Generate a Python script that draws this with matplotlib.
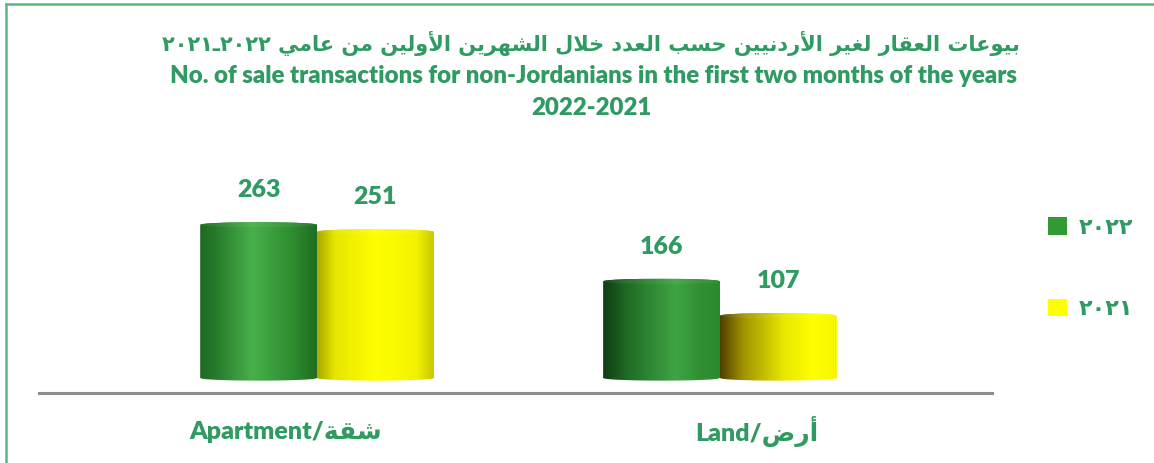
import numpy as np
import matplotlib
matplotlib.use("Agg")
import matplotlib.pyplot as plt
from matplotlib.patches import PathPatch, Patch
from matplotlib.path import Path
from matplotlib.lines import Line2D
from matplotlib.colors import to_rgb

# ---- data ----
categories = ["Apartment/شقة", "Land/أرض"]
series_names = ["٢٠٢٢", "٢٠٢١"]
values_2022 = [263, 166]
values_2021 = [251, 107]
title_ar = "بيوعات العقار لغير الأردنيين حسب العدد خلال الشهرين الأولين من عامي ٢٠٢٢ـ٢٠٢١"
title_en_1 = "No. of sale transactions for non-Jordanians in the first two months of the years"
title_en_2 = "2022-2021"

TXT = "#2f9a62"

# ---- minimal arabic shaping (matplotlib does no text shaping) ----
FORMS = {
    "ا": ("\uFE8D", "\uFE8E", None, None),
    "أ": ("\uFE83", "\uFE84", None, None),
    "ب": ("\uFE8F", "\uFE90", "\uFE91", "\uFE92"),
    "ة": ("\uFE93", "\uFE94", None, None),
    "ت": ("\uFE95", "\uFE96", "\uFE97", "\uFE98"),
    "ح": ("\uFEA1", "\uFEA2", "\uFEA3", "\uFEA4"),
    "خ": ("\uFEA5", "\uFEA6", "\uFEA7", "\uFEA8"),
    "د": ("\uFEA9", "\uFEAA", None, None),
    "ر": ("\uFEAD", "\uFEAE", None, None),
    "س": ("\uFEB1", "\uFEB2", "\uFEB3", "\uFEB4"),
    "ش": ("\uFEB5", "\uFEB6", "\uFEB7", "\uFEB8"),
    "ض": ("\uFEBD", "\uFEBE", "\uFEBF", "\uFEC0"),
    "ع": ("\uFEC9", "\uFECA", "\uFECB", "\uFECC"),
    "غ": ("\uFECD", "\uFECE", "\uFECF", "\uFED0"),
    "ق": ("\uFED5", "\uFED6", "\uFED7", "\uFED8"),
    "ل": ("\uFEDD", "\uFEDE", "\uFEDF", "\uFEE0"),
    "م": ("\uFEE1", "\uFEE2", "\uFEE3", "\uFEE4"),
    "ن": ("\uFEE5", "\uFEE6", "\uFEE7", "\uFEE8"),
    "ه": ("\uFEE9", "\uFEEA", "\uFEEB", "\uFEEC"),
    "و": ("\uFEED", "\uFEEE", None, None),
    "ي": ("\uFEF1", "\uFEF2", "\uFEF3", "\uFEF4"),
}
LAM_ALEF = {"ا": ("\uFEFB", "\uFEFC"), "أ": ("\uFEF7", "\uFEF8")}


def joins_forward(ch):
    return ch is not None and not isinstance(ch, tuple) and ch in FORMS and FORMS[ch][2] is not None


def shape_word(word):
    letters = []
    i = 0
    while i < len(word):
        if word[i] == "ل" and i + 1 < len(word) and word[i + 1] in LAM_ALEF:
            letters.append(("LA", word[i + 1]))
            i += 2
        else:
            letters.append(word[i])
            i += 1
    out = []
    for k, ch in enumerate(letters):
        prev = letters[k - 1] if k > 0 else None
        nxt = letters[k + 1] if k + 1 < len(letters) else None
        jp = joins_forward(prev)
        if isinstance(ch, tuple):
            iso, fin = LAM_ALEF[ch[1]]
            out.append(fin if jp else iso)
            continue
        if ch not in FORMS:
            out.append(ch)
            continue
        f = FORMS[ch]
        jn = f[2] is not None and nxt is not None and (isinstance(nxt, tuple) or nxt in FORMS)
        if jp and jn:
            out.append(f[3])
        elif jp:
            out.append(f[1])
        elif jn:
            out.append(f[2])
        else:
            out.append(f[0])
    return "".join(reversed(out))


def visual(text):
    words = text.split(" ")
    out = []
    for w in reversed(words):
        if any(c in "٠١٢٣٤٥٦٧٨٩" for c in w):
            out.append("ـ".join(reversed(w.split("ـ"))))
        else:
            out.append(shape_word(w))
    return " ".join(out)


def visual_label(s):
    en, ar = s.split("/")
    return en + "/" + visual(ar)


# ---- figure ----
W, H = 1154, 463
fig = plt.figure(figsize=(W / 100, H / 100), dpi=100)
fig.patch.set_facecolor("white")

ax = fig.add_axes([39 / W, 1 - 393 / H, (992 - 39) / W, (393 - 145) / H])
for s in ["top", "left", "right"]:
    ax.spines[s].set_visible(False)
ax.spines["bottom"].set_color("#8c8c8c")
ax.spines["bottom"].set_linewidth(2.2)
ax.set_xticks([])
ax.set_yticks([])

x = np.arange(len(categories))
w = 0.29
ry = 4.5

shading = {
    (0, 0): [(0, "#1d6a22"), (0.12, "#25782a"), (0.45, "#48b04a"), (0.78, "#2e8e30"), (1, "#1f6e22")],
    (1, 0): [(0, "#0f3d14"), (0.2, "#1f6a25"), (0.62, "#3fa544"), (0.85, "#2f8f32"), (1, "#2a8a2e")],
    (0, 1): [(0, "#a8a800"), (0.15, "#e5e500"), (0.5, "#ffff00"), (0.85, "#f2f200"), (1, "#c8c800")],
    (1, 1): [(0, "#4f3f00"), (0.2, "#a09400"), (0.55, "#e8e800"), (0.8, "#ffff00"), (1, "#f5f500")],
}


def gradient(stops, light=0.0):
    pos = [p for p, _ in stops]
    cols = np.array([to_rgb(c) for _, c in stops])
    t = np.linspace(0, 1, 256)
    rgb = np.stack([np.interp(t, pos, cols[:, i]) for i in range(3)], axis=-1)
    rgb = rgb + (1 - rgb) * light
    return rgb[np.newaxis, :, :]


def cylinder(rect, stops, z):
    x0 = rect.get_x()
    x1 = x0 + rect.get_width()
    v = rect.get_height()
    xc = (x0 + x1) / 2
    a = (x1 - x0) / 2
    xs = np.linspace(x0, x1, 80)
    arc = ry * np.sqrt(np.clip(1 - ((xs - xc) / a) ** 2, 0, 1))
    verts = [(x0, 0), (x0, v)] + list(zip(xs, v + arc)) + [(x1, 0)] + list(zip(xs[::-1], -arc[::-1])) + [(x0, 0)]
    body = PathPatch(Path(verts, closed=True), transform=ax.transData, facecolor="none", edgecolor="none")
    ax.add_patch(body)
    im = ax.imshow(gradient(stops), extent=[x0, x1, -ry, v + ry], aspect="auto",
                   interpolation="bilinear", zorder=z)
    im.set_clip_path(body)
    top_verts = list(zip(xs, v + arc)) + list(zip(xs[::-1], v - arc[::-1]))
    top = PathPatch(Path(top_verts, closed=True), transform=ax.transData, facecolor="none", edgecolor="none")
    ax.add_patch(top)
    im2 = ax.imshow(gradient(stops, light=0.06), extent=[x0, x1, v - ry, v + ry], aspect="auto",
                    interpolation="bilinear", zorder=z + 0.1)
    im2.set_clip_path(top)


bars_2021 = ax.bar(x + w / 2, values_2021, w, alpha=0)
bars_2022 = ax.bar(x - w / 2, values_2022, w, alpha=0)
for g, r in enumerate(bars_2021):
    cylinder(r, shading[(g, 1)], 2)
for g, r in enumerate(bars_2022):
    cylinder(r, shading[(g, 0)], 3)

ax.set_xlim(-0.690, 1.675)
ax.set_ylim(-25.75, 400)

for bars, vals in [(bars_2022, values_2022), (bars_2021, values_2021)]:
    for r, v in zip(bars, vals):
        ax.annotate(str(v), (r.get_x() + r.get_width() / 2, v), xytext=(0, 25), textcoords="offset points",
                    ha="center", va="center", fontsize=18, fontweight="heavy", color=TXT, family="Lato")

label_shift = [-0.077, 0.092]
for xi, cat, sh in zip(x, categories, label_shift):
    ax.annotate(visual_label(cat), (xi + sh, 0), xycoords=("data", "axes fraction"),
                xytext=(0, -28), textcoords="offset points", ha="center", va="center",
                fontsize=18, fontweight="heavy", color=TXT, family=["Lato", "DejaVu Sans"])

# titles
fig.text(591 / W, 1 - 43 / H, visual(title_ar), ha="center", va="center", fontsize=15,
         fontweight="bold", color=TXT, family="DejaVu Sans")
fig.text(594 / W, 1 - 76 / H, title_en_1, ha="center", va="center", fontsize=17.3,
         fontweight="heavy", color=TXT, family="Lato")
fig.text(591 / W, 1 - 108 / H, title_en_2, ha="center", va="center", fontsize=17.3,
         fontweight="heavy", color=TXT, family="Lato")

# legend
handles = [Patch(facecolor="#339933", edgecolor="none"), Patch(facecolor="#ffff00", edgecolor="none")]
fig.legend(handles, series_names, loc="upper left", bbox_to_anchor=(1028 / W, 1 - 197 / H),
           frameon=False, handlelength=0.85, handleheight=0.85, labelspacing=2.75, handletextpad=0.55,
           prop={"family": "DejaVu Sans", "weight": "bold", "size": 16}, labelcolor=TXT)

# outer border (left and top visible)
bc = "#5cb87e"
fig.add_artist(Line2D([6 / W, 6 / W], [0, 1 - 4 / H], color=bc, lw=1.8, transform=fig.transFigure))
fig.add_artist(Line2D([6 / W, 1], [1 - 4 / H, 1 - 4 / H], color=bc, lw=1.8, transform=fig.transFigure))

fig.savefig("out.png", dpi=100)
